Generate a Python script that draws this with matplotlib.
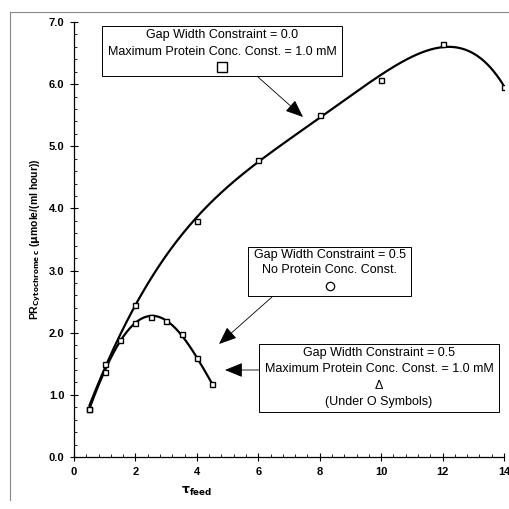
import numpy as np
import matplotlib
matplotlib.use("Agg")
import matplotlib.pyplot as plt
from matplotlib.patches import Rectangle, FancyArrowPatch
from matplotlib.lines import Line2D

plt.rcParams['font.family'] = ['Liberation Sans', 'DejaVu Sans']

# Data
tau_a = [0.5, 1, 2, 4, 6, 8, 10, 12, 14]
pr_a = [0.78, 1.49, 2.45, 3.80, 4.78, 5.51, 6.07, 6.64, 5.96]
tau_b = [0.5, 1, 1.5, 2, 2.5, 3, 3.5, 4, 4.5]
pr_b = [0.78, 1.37, 1.88, 2.16, 2.26, 2.19, 1.98, 1.59, 1.18]
xticks = [0, 2, 4, 6, 8, 10, 12, 14]
yticks = [0.0, 1.0, 2.0, 3.0, 4.0, 5.0, 6.0, 7.0]


def smooth_fit(x, y, deg, n=400):
    x = np.asarray(x, float); y = np.asarray(y, float)
    p = np.polynomial.Polynomial.fit(x, y, deg)
    xs = np.linspace(x[0], x[-1], n)
    return xs, p(xs)


W = H = 509
fig = plt.figure(figsize=(W / 100, H / 100), dpi=100)


def F(px, py):
    return (px / W, 1 - py / H)


ax = fig.add_axes([74 / W, 1 - 457 / H, 430 / W, 435 / H])
xs, ys = smooth_fit(tau_a, pr_a, 5)
ax.plot(xs, ys, color='black', lw=1.6, solid_capstyle='round')
xs, ys = smooth_fit(tau_b, pr_b, 4)
ax.plot(xs, ys, color='black', lw=1.6, solid_capstyle='round')
ax.plot(tau_a, pr_a, 's', ms=3.6, mfc='white', mec='black', mew=1.0)
ax.plot(tau_b, pr_b, 's', ms=3.6, mfc='white', mec='black', mew=1.0)

ax.set_xlim(0, 14)
ax.set_ylim(0, 7)
ax.set_xticks(xticks)
ax.set_xticklabels([str(t) for t in xticks], fontweight='bold', fontsize=8)
ax.set_yticks(yticks)
ax.set_yticklabels([f"{t:.1f}" for t in yticks], fontweight='bold', fontsize=8)
ax.set_xticks(np.arange(0, 14.01, 0.4), minor=True)
ax.set_yticks(np.arange(0, 7.01, 0.2), minor=True)
ax.tick_params(which='major', direction='inout', length=6, width=0.8)
ax.tick_params(which='minor', direction='in', length=2.5, width=0.6)
ax.tick_params(axis='y', which='major', pad=4)
ax.tick_params(axis='x', which='major', pad=4)
for s in ['top', 'right']:
    ax.spines[s].set_visible(False)
for s in ['left', 'bottom']:
    ax.spines[s].set_linewidth(0.9)

ax.set_ylabel(r'PR$_{\mathbf{Cytochrome\ c}}$ ($\mathbf{\mu}$mole/(ml hour))',
              fontweight='bold', fontsize=7.5, labelpad=4)
fig.text(*F(197, 491), r'$\mathbf{\tau}_{\mathbf{feed}}$', ha='center', va='center', fontsize=9)

# outer frame
fig.add_artist(Line2D([10 / W, 1], [1 - 12 / H, 1 - 12 / H], transform=fig.transFigure, color='#888888', lw=0.8))
fig.add_artist(Line2D([10 / W, 10 / W], [1 - 12 / H, 1 - 500 / H], transform=fig.transFigure, color='#888888', lw=0.8))


def box(x0, y0, x1, y1):
    fig.add_artist(Rectangle(F(x0, y1), (x1 - x0) / W, (y1 - y0) / H,
                             transform=fig.transFigure, fill=True, fc='white', ec='black', lw=0.7, zorder=5))


fs = 9
box(102, 26, 342, 76)
fig.text(*F(222, 35), 'Gap Width Constraint = 0.0', ha='center', va='center', fontsize=fs, zorder=6)
fig.text(*F(222, 52), 'Maximum Protein Conc. Const. = 1.0 mM', ha='center', va='center', fontsize=fs, zorder=6)
fig.add_artist(Line2D([222 / W], [1 - 67 / H], transform=fig.transFigure, marker='s', ms=7,
                      mfc='white', mec='black', mew=1.0, zorder=6))

box(248, 247, 411, 296)
fig.text(*F(330, 255), 'Gap Width Constraint = 0.5', ha='center', va='center', fontsize=fs, zorder=6)
fig.text(*F(330, 270), 'No Protein Conc. Const.', ha='center', va='center', fontsize=fs, zorder=6)
fig.add_artist(Line2D([330 / W], [1 - 286 / H], transform=fig.transFigure, marker='o', ms=6,
                      mfc='white', mec='black', mew=0.9, zorder=6))

box(259, 344, 499, 412)
fig.text(*F(379, 353), 'Gap Width Constraint = 0.5', ha='center', va='center', fontsize=fs, zorder=6)
fig.text(*F(379, 369), 'Maximum Protein Conc. Const. = 1.0 mM', ha='center', va='center', fontsize=fs, zorder=6)
fig.text(*F(379, 386), 'Δ', ha='center', va='center', fontsize=fs, zorder=6)
fig.text(*F(379, 402), '(Under O Symbols)', ha='center', va='center', fontsize=fs, zorder=6)

for (sx, sy), (tx, ty) in [((258, 77), (303, 117)), ((272, 297), (219, 344)), ((259, 370), (225, 370))]:
    fig.add_artist(FancyArrowPatch(F(sx, sy), F(tx, ty), transform=fig.transFigure,
                                   arrowstyle='-|>,head_length=1.1,head_width=0.45', color='black', lw=0.6,
                                   mutation_scale=10, shrinkA=0, shrinkB=0, zorder=4))

fig.savefig('out.png', dpi=100)
